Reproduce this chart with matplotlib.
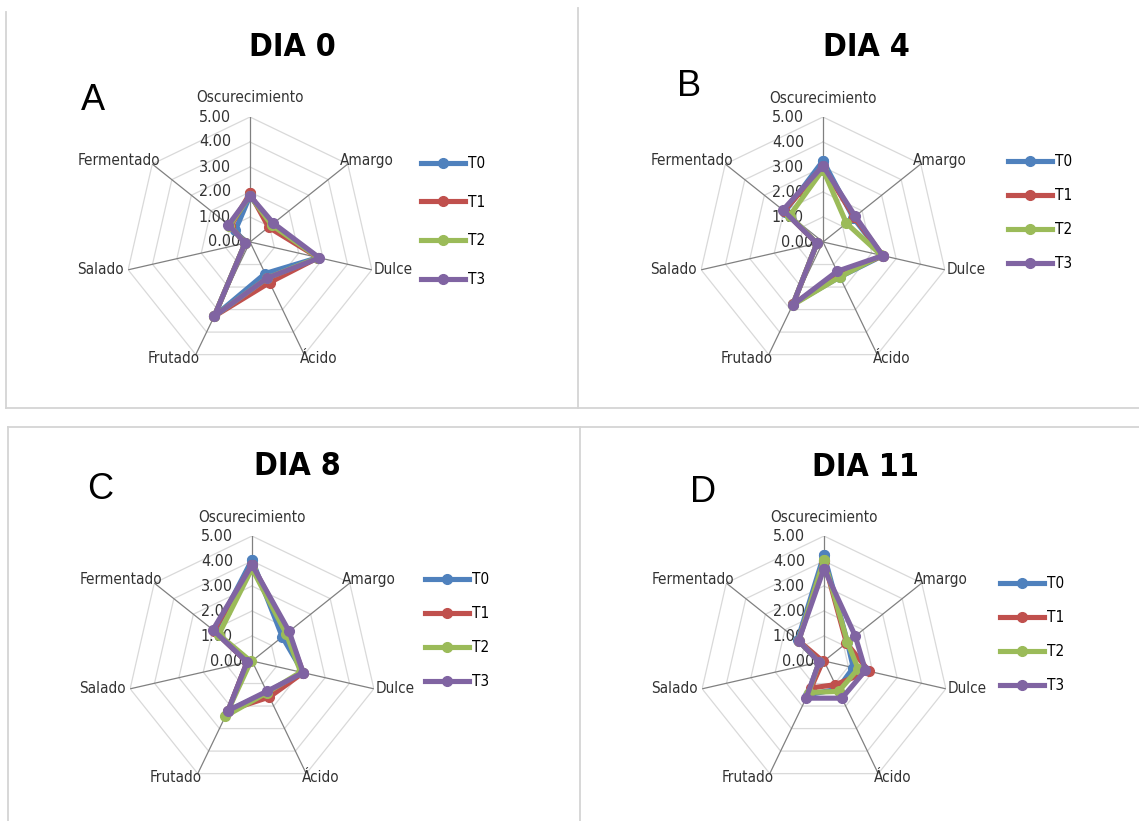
import numpy as np
import matplotlib
matplotlib.use("Agg")
import matplotlib.pyplot as plt
from matplotlib.lines import Line2D

plt.rcParams['font.family'] = ['DejaVu Sans']
plt.rcParams['font.stretch'] = 'condensed'

# Sensory attributes (clockwise from top)
categories = ['Oscurecimiento', 'Amargo', 'Dulce', 'Ácido', 'Frutado', 'Salado', 'Fermentado']
treatments = ['T0', 'T1', 'T2', 'T3']
colors = ['#4F81BD', '#C0504D', '#9BBB59', '#8064A2']
tick_values = [0, 1, 2, 3, 4, 5]
tick_labels = ['0.00', '1.00', '2.00', '3.00', '4.00', '5.00']

# Scores per day, one list per treatment
dia0_t0 = [1.85, 1.10, 2.80, 1.40, 3.30, 0.20, 0.75]
dia0_t1 = [1.95, 0.95, 2.80, 1.80, 3.30, 0.20, 1.00]
dia0_t2 = [1.85, 1.10, 2.80, 1.60, 3.30, 0.20, 1.05]
dia0_t3 = [1.85, 1.20, 2.85, 1.60, 3.30, 0.20, 1.10]

dia4_t0 = [3.25, 1.55, 2.45, 1.55, 2.75, 0.25, 1.95]
dia4_t1 = [3.00, 1.60, 2.45, 1.45, 2.75, 0.25, 2.00]
dia4_t2 = [2.90, 1.20, 2.40, 1.55, 2.80, 0.25, 1.70]
dia4_t3 = [3.05, 1.65, 2.45, 1.30, 2.80, 0.25, 2.05]

dia8_t0 = [4.05, 1.55, 2.10, 1.40, 2.20, 0.20, 1.90]
dia8_t1 = [3.85, 1.85, 2.10, 1.60, 2.20, 0.20, 1.95]
dia8_t2 = [3.70, 1.75, 2.00, 1.40, 2.45, 0.05, 1.70]
dia8_t3 = [3.85, 1.90, 2.10, 1.35, 2.20, 0.20, 2.00]

dia11_t0 = [4.25, 1.20, 1.20, 1.25, 1.50, 0.20, 1.35]
dia11_t1 = [4.00, 1.15, 1.85, 1.05, 1.20, 0.05, 1.30]
dia11_t2 = [4.05, 1.20, 1.40, 1.35, 1.40, 0.20, 1.30]
dia11_t3 = [3.70, 1.60, 1.70, 1.65, 1.65, 0.20, 1.30]

W, H = 1139, 821
fig = plt.figure(figsize=(W / 100, H / 100), dpi=100)
fig.patch.set_facecolor('white')
PT = 0.72  # points per pixel at 100 dpi


def fx(x):
    return x / W


def fy(y):
    return 1 - y / H


def hline(x0, x1, y):
    fig.add_artist(Line2D([fx(x0), fx(x1)], [fy(y), fy(y)], color='#d4d4d4', lw=1.3))


def vline(x, y0, y1):
    fig.add_artist(Line2D([fx(x), fx(x)], [fy(y0), fy(y1)], color='#d4d4d4', lw=1.3))


# panel frames
vline(6, 12, 408)
vline(578, 8, 408)
hline(6, W, 408)
hline(8, W, 427)
vline(8, 427, H)
vline(580, 427, H)

# label placement around the outer ring: (dx px, dy px, ha)
label_pos = {
    'Oscurecimiento': (0, 19, 'center'),
    'Amargo': (-8, 4, 'left'),
    'Dulce': (2, 0, 'left'),
    'Ácido': (-4, -4, 'left'),
    'Frutado': (4, -4, 'right'),
    'Salado': (-4, 0, 'right'),
    'Fermentado': (8, 4, 'right'),
}

R = 125
N = len(categories)
theta = np.arange(N) * 2 * np.pi / N


def radar(cx, cy, title, title_xy, letter, letter_xy, series, leg_xy, leg_space):
    ax = fig.add_axes([fx(cx - R), fy(cy + R), 2 * R / W, 2 * R / H], projection='polar')
    ax.set_theta_offset(np.pi / 2)
    ax.set_theta_direction(-1)
    ax.set_ylim(0, 5)
    ax.grid(False)
    ax.spines['polar'].set_visible(False)
    ax.set_xticks([])
    ax.set_yticks([])
    ax.patch.set_alpha(0)

    closed = np.append(theta, theta[0])
    # heptagon grid
    for r in tick_values[1:]:
        ax.plot(closed, [r] * (N + 1), color='#d9d9d9', lw=0.9, zorder=1)
    # spokes
    for t in theta:
        ax.plot([t, t], [0, 5], color='#808080', lw=0.9, zorder=1)

    for v, lab in zip(tick_values, tick_labels):
        dx = -10 if v == 0 else -19
        ax.annotate(lab, xy=(0, v), xytext=(dx * PT, 0), textcoords='offset points',
                    ha='right', va='center', fontsize=11.5, color='#333333')

    for cat, t in zip(categories, theta):
        dx, dy, ha = label_pos[cat]
        ax.annotate(cat, xy=(t, 5), xytext=(dx * PT, dy * PT), textcoords='offset points',
                    ha=ha, va='center', fontsize=11, color='#333333')

    handles = []
    for vals, col, name in zip(series, colors, treatments):
        v = np.append(vals, vals[0])
        h, = ax.plot(closed, v, color=col, lw=3.7, marker='o', markersize=7,
                     label=name, zorder=3, clip_on=False)
        handles.append(h)

    fig.legend(handles=handles, loc='upper left',
               bbox_to_anchor=(fx(leg_xy[0]), fy(leg_xy[1])),
               frameon=False, fontsize=11, handlelength=2.9, handletextpad=0.15,
               labelspacing=leg_space, borderpad=0, borderaxespad=0)

    fig.text(fx(title_xy[0]), fy(title_xy[1]), title, ha='center', va='center',
             fontsize=23, fontweight='bold', color='black')
    fig.text(fx(letter_xy[0]), fy(letter_xy[1]), letter, ha='center', va='center',
             fontsize=26, family='Liberation Sans', stretch='normal', color='black')


radar(250, 242, 'DIA 0', (292, 48), 'A', (93, 101),
      [dia0_t0, dia0_t1, dia0_t2, dia0_t3], (421, 156), 1.55)
radar(823, 242, 'DIA 4', (866, 47), 'B', (689, 87),
      [dia4_t0, dia4_t1, dia4_t2, dia4_t3], (1008, 154), 1.25)
radar(252, 661, 'DIA 8', (297, 466), 'C', (100, 489),
      [dia8_t0, dia8_t1, dia8_t2, dia8_t3], (425, 572), 1.25)
radar(824, 661, 'DIA 11', (865, 467), 'D', (703, 492),
      [dia11_t0, dia11_t1, dia11_t2, dia11_t3], (1000, 576), 1.25)

fig.savefig('out.png', dpi=100)
